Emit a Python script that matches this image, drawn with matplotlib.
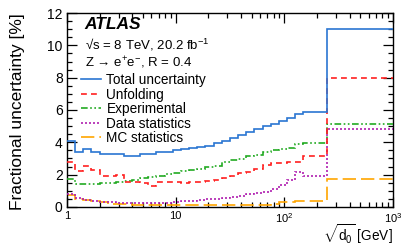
"""
Fractional uncertainties vs sqrt(d0), ATLAS Z->ee.
"""

import numpy as np
import matplotlib
matplotlib.use("Agg")
import matplotlib.pyplot as plt
from matplotlib.ticker import MultipleLocator, FixedLocator, FixedFormatter, LogLocator, NullFormatter

plt.rcParams['font.family'] = ['Liberation Sans', 'DejaVu Sans']
plt.rcParams['mathtext.fontset'] = 'custom'
plt.rcParams['mathtext.rm'] = 'Liberation Sans'
plt.rcParams['mathtext.it'] = 'Liberation Sans:italic'

# Data
edges = [1, 1.19, 1.41, 1.68, 2.0, 2.37, 2.82, 3.35, 3.98, 4.73, 5.62, 6.68, 7.94, 9.44,
         11.2, 13.3, 15.8, 18.8, 22.4, 26.6, 31.6, 37.6, 44.7, 53.1, 63.1, 75.0, 89.1,
         106, 126, 150, 245, 1000]
total = [4.05, 3.38, 3.6, 3.4, 3.3, 3.3, 3.3, 3.17, 3.17, 3.25, 3.25, 3.38, 3.4, 3.5,
         3.56, 3.62, 3.68, 3.8, 3.93, 4.1, 4.28, 4.46, 4.64, 4.83, 5.02, 5.16, 5.3, 5.52,
         5.78, 5.88, 11.0]
unfold = [2.8, 2.2, 2.55, 2.3, 1.9, 1.9, 1.97, 1.57, 1.57, 1.47, 1.32, 1.53, 1.53, 1.55,
          1.5, 1.55, 1.53, 1.6, 1.68, 1.78, 1.93, 2.09, 2.19, 2.34, 2.62, 2.7, 2.72, 2.78,
          2.8, 3.17, 7.95]
exper = [1.72, 1.43, 1.41, 1.41, 1.47, 1.5, 1.57, 1.6, 1.68, 1.76, 1.84, 1.93, 2.02, 2.12,
         2.22, 2.3, 2.34, 2.44, 2.55, 2.8, 2.92, 2.96, 3.17, 3.23, 3.4, 3.5, 3.58, 3.62,
         3.91, 3.93, 5.16]
datastat = [0.8, 0.55, 0.42, 0.35, 0.31, 0.28, 0.26, 0.25, 0.25, 0.25, 0.25, 0.26, 0.27, 0.3,
            0.35, 0.38, 0.42, 0.47, 0.51, 0.56, 0.63, 0.69, 0.78, 0.85, 0.95, 1.1, 1.37, 1.68,
            2.19, 1.93, 4.8]
mcstat = [0.75, 0.48, 0.45, 0.37, 0.28, 0.2, 0.17, 0.15, 0.13, 0.12, 0.11, 0.1, 0.1, 0.1,
          0.1, 0.1, 0.1, 0.1, 0.1, 0.1, 0.1, 0.11, 0.11, 0.12, 0.13, 0.15, 0.28, 0.28,
          0.37, 0.37, 1.72]
xticks = [1, 10, 100, 1000]
xticklabels = ['1', '10', '$10^2$', '$10^3$']

fig = plt.figure(figsize=(4.15, 2.46), dpi=100)
ax = fig.add_axes([0.161, 0.159, 0.786, 0.788])

series = [
    (total, 'Total uncertainty', '#2a76d2', '-', 6),
    (unfold, 'Unfolding', '#ff2020', (0, (3.5, 2.5)), 5),
    (exper, 'Experimental', '#22aa22', (0, (4, 1.5, 1, 1.5, 1, 1.5)), 3),
    (datastat, 'Data statistics', '#b020b0', (0, (1.2, 1.2)), 4),
    (mcstat, 'MC statistics', '#ffa500', (0, (8, 3)), 2),
]
for vals, lab, col, ls, z in series:
    ax.stairs(vals, edges, color=col, linestyle=ls, linewidth=1.2, label=lab,
              baseline=None, zorder=z)

ax.set_xscale('log')
ax.set_xlim(1, 1000)
ax.set_ylim(0, 12)
ax.xaxis.set_major_locator(FixedLocator(xticks))
ax.xaxis.set_major_formatter(FixedFormatter(xticklabels))
ax.xaxis.set_minor_locator(LogLocator(base=10, subs=np.arange(2, 10)))
ax.xaxis.set_minor_formatter(NullFormatter())
ax.yaxis.set_major_locator(MultipleLocator(2))
ax.yaxis.set_minor_locator(MultipleLocator(0.5))
ax.tick_params(which='both', direction='in', top=True, right=True, width=0.9)
ax.tick_params(which='major', length=7, labelsize=10, pad=3)
ax.tick_params(which='minor', length=3.5)
ax.tick_params(axis='x', labelsize=8, pad=3)
for s in ax.spines.values():
    s.set_linewidth(1.0)

ax.set_ylabel('Fractional uncertainty [%]', fontsize=12.5)
ax.yaxis.set_label_coords(-0.128, 0.49)
ax.set_xlabel(r'$\sqrt{\mathrm{d}_0}$ [GeV]', fontsize=9.8)
ax.xaxis.set_label_coords(1.0, -0.082)
ax.xaxis.label.set_horizontalalignment('right')

ax.text(0.055, 0.94, 'ATLAS', transform=ax.transAxes, fontsize=12.5,
        fontweight='bold', fontstyle='italic', va='center')
ax.text(0.055, 0.835, '√s = 8 TeV, 20.2 fb$^{-1}$', transform=ax.transAxes,
        fontsize=9.5, va='center')
ax.text(0.055, 0.745, 'Z → e$^{+}$e$^{-}$, R = 0.4', transform=ax.transAxes,
        fontsize=9.5, va='center')

ax.legend(loc='upper left', bbox_to_anchor=(0.015, 0.74), frameon=False, fontsize=9.8,
          handlelength=1.45, handletextpad=0.4, labelspacing=0.04, borderpad=0.2)

fig.savefig('out.png', dpi=100)
